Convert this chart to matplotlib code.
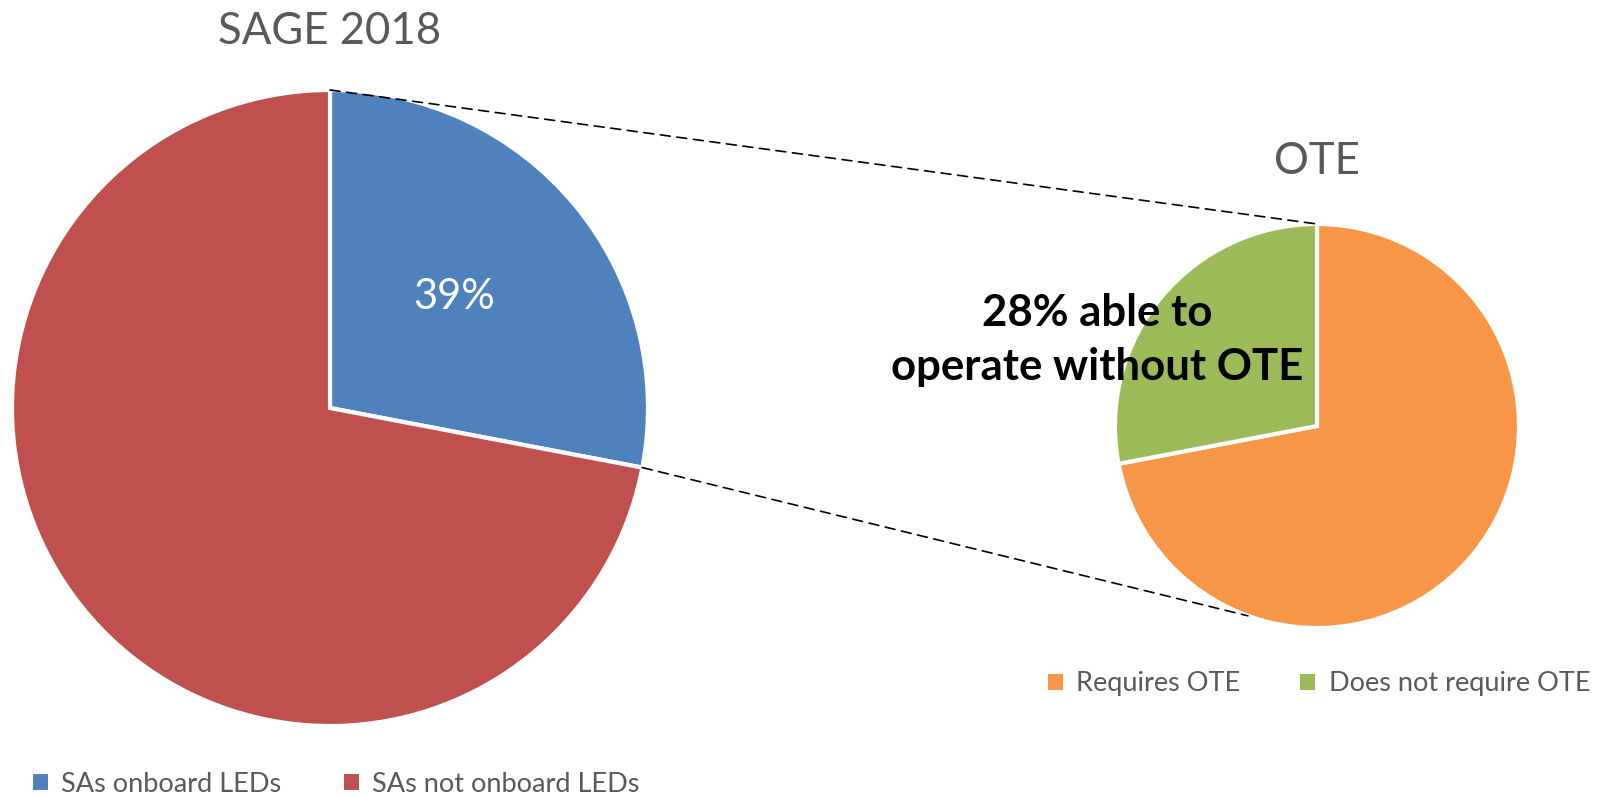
import numpy as np
import matplotlib
matplotlib.use("Agg")
import matplotlib.pyplot as plt
from matplotlib.patches import Patch, ConnectionPatch

plt.rcParams['font.family'] = ['Lato', 'DejaVu Sans']

# data
main_labels = ['SAs onboard LEDs', 'SAs not onboard LEDs']
main_values = [28, 72]
main_text = '39%'
sub_labels = ['Requires OTE', 'Does not require OTE']
sub_values = [72, 28]
sub_text = '28% able to\noperate without OTE'

main_colors = ['#4F81BD', '#C0504D']
sub_colors = ['#F79646', '#9BBB59']
gray = '#595959'

W, H = 1618, 798
fig = plt.figure(figsize=(W / 100, H / 100), dpi=100)

def pie_axes(cx, cy, r):
    # pixel centre / radius -> axes spanning the circle
    return fig.add_axes([(cx - r) / W, (H - cy - r) / H, 2 * r / W, 2 * r / H])

ax1 = pie_axes(330, 408, 318)
ax2 = pie_axes(1317, 426, 202)

for ax, vals, cols in [(ax1, main_values, main_colors), (ax2, sub_values, sub_colors)]:
    ax.pie(vals, colors=cols, startangle=90, counterclock=False, radius=1,
           wedgeprops=dict(edgecolor='white', linewidth=3))
    ax.set_xlim(-1, 1)
    ax.set_ylim(-1, 1)
    ax.set_aspect('equal')
    ax.axis('off')

ax1.text(0.39, 0.35, main_text, color='white', fontsize=30, ha='center', va='center')
fig.text(330 / W, 1 - 31 / H, 'SAGE 2018', color=gray, fontsize=31.5, ha='center', va='center')
fig.text(1317 / W, 1 - 162 / H, 'OTE', color=gray, fontsize=31.5, ha='center', va='center')
fig.text(1097 / W, 1 - 340 / H, sub_text, color='black', fontsize=31.5, fontweight='bold',
         ha='center', va='center', linespacing=1.45)

# connector lines
end_ang = np.deg2rad(90 - main_values[0] / sum(main_values) * 360)
low_ang = np.deg2rad(250)
for p1, p2 in [((0, 1), (0, 1)),
               ((np.cos(end_ang), np.sin(end_ang)), (np.cos(low_ang), np.sin(low_ang)))]:
    con = ConnectionPatch(xyA=p1, coordsA=ax1.transData, xyB=p2, coordsB=ax2.transData,
                          color='black', linestyle=(0, (6, 4)), linewidth=1.2)
    fig.add_artist(con)

def add_legend(labels, colors, x, y, spacing):
    handles = [Patch(facecolor=c, edgecolor='none') for c in colors]
    fig.legend(handles, labels, loc='center left', bbox_to_anchor=(x / W, 1 - y / H),
               ncol=2, frameon=False, fontsize=19.5, labelcolor=gray,
               handlelength=0.55, handleheight=0.55, handletextpad=0.5,
               columnspacing=spacing, borderaxespad=0, borderpad=0)

add_legend(main_labels, main_colors, 33, 784, 2.3)
add_legend(sub_labels, sub_colors, 1048, 684, 2.2)

fig.savefig('out.png', dpi=100, facecolor='white')
